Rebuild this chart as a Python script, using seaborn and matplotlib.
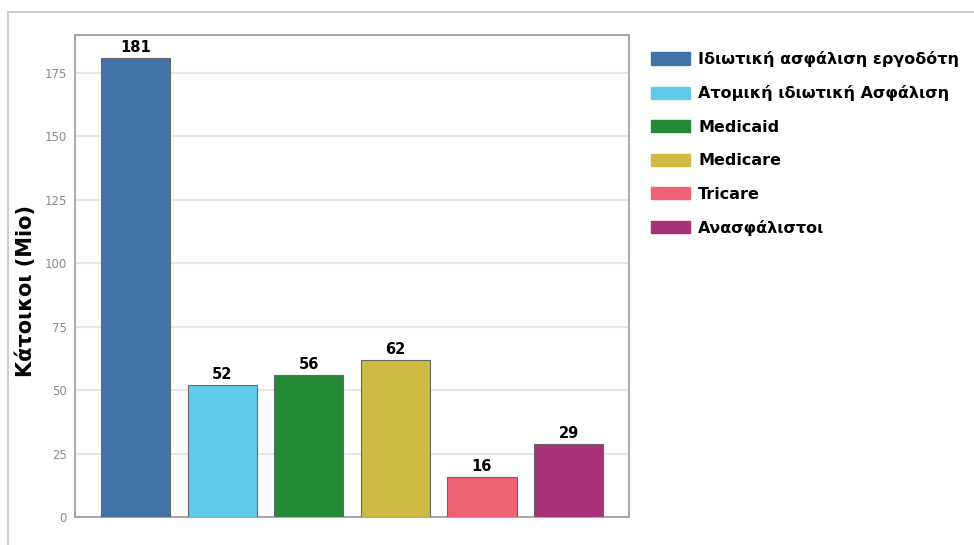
import numpy as np
import pandas as pd
import matplotlib
matplotlib.use("Agg")
import matplotlib.pyplot as plt
import seaborn as sns
from matplotlib.patches import Rectangle

# Dados do gráfico
categorias = ["Ιδιωτική ασφάλιση εργοδότη", "Ατομική ιδιωτική Ασφάλιση", "Medicaid",
              "Medicare", "Tricare", "Ανασφάλιστοι"]
valores = [181, 52, 56, 62, 16, 29]
cores = ["#4273a8", "#5ecbeb", "#238b36", "#cdb944", "#ef6276", "#a83278"]
yticks = [0, 25, 50, 75, 100, 125, 150, 175]

sns.set_style("white")
plt.rcParams["font.family"] = ["DejaVu Sans"]

df = pd.DataFrame({"Categoria": categorias, "Valor": valores})

fig = plt.figure(figsize=(9.74, 5.45), dpi=100)
ax = fig.add_axes([0.077, 0.051, 0.569, 0.885])

# Moldura externa
fig.patches.append(Rectangle((0.008, -0.01), 1.0, 0.988, transform=fig.transFigure,
                             fill=False, edgecolor="#cccccc", linewidth=1.5))

sns.barplot(data=df, x="Categoria", y="Valor", hue="Categoria", palette=cores,
            saturation=1, width=0.8, edgecolor="#666666", linewidth=0.8,
            legend=False, ax=ax, zorder=3)

for cont in ax.containers:
    ax.bar_label(cont, fmt="%d", padding=2, fontsize=10.5, fontweight="bold", color="black")

ax.set_xlim(-0.7, 5.7)
ax.set_ylim(0, 190)
ax.set_yticks(yticks)
ax.tick_params(axis="y", labelsize=8.5, colors="#888888", length=3, width=0.8, pad=3)
ax.set_xticks([])
ax.set_xlabel("")
ax.set_ylabel("Κάτοικοι (Mio)", fontsize=15, fontweight="bold", color="black")
ax.yaxis.set_label_coords(-0.07, 0.47)
ax.grid(axis="y", color="#e6e6e6", linewidth=1.5, zorder=0)
for s in ax.spines.values():
    s.set_color("#aaaaaa")
    s.set_linewidth(1.5)

handles = [Rectangle((0, 0), 1, 1, color=c) for c in cores]
leg = fig.legend(handles, categorias, loc="upper left", bbox_to_anchor=(0.662, 0.918),
                 frameon=False, handlelength=2.4, handleheight=0.8, labelspacing=1.15,
                 prop={"size": 11.5, "weight": "bold"}, borderaxespad=0, handletextpad=0.55)
for t in leg.get_texts():
    t.set_color("black")

plt.savefig("out.png", dpi=100)
plt.close()
